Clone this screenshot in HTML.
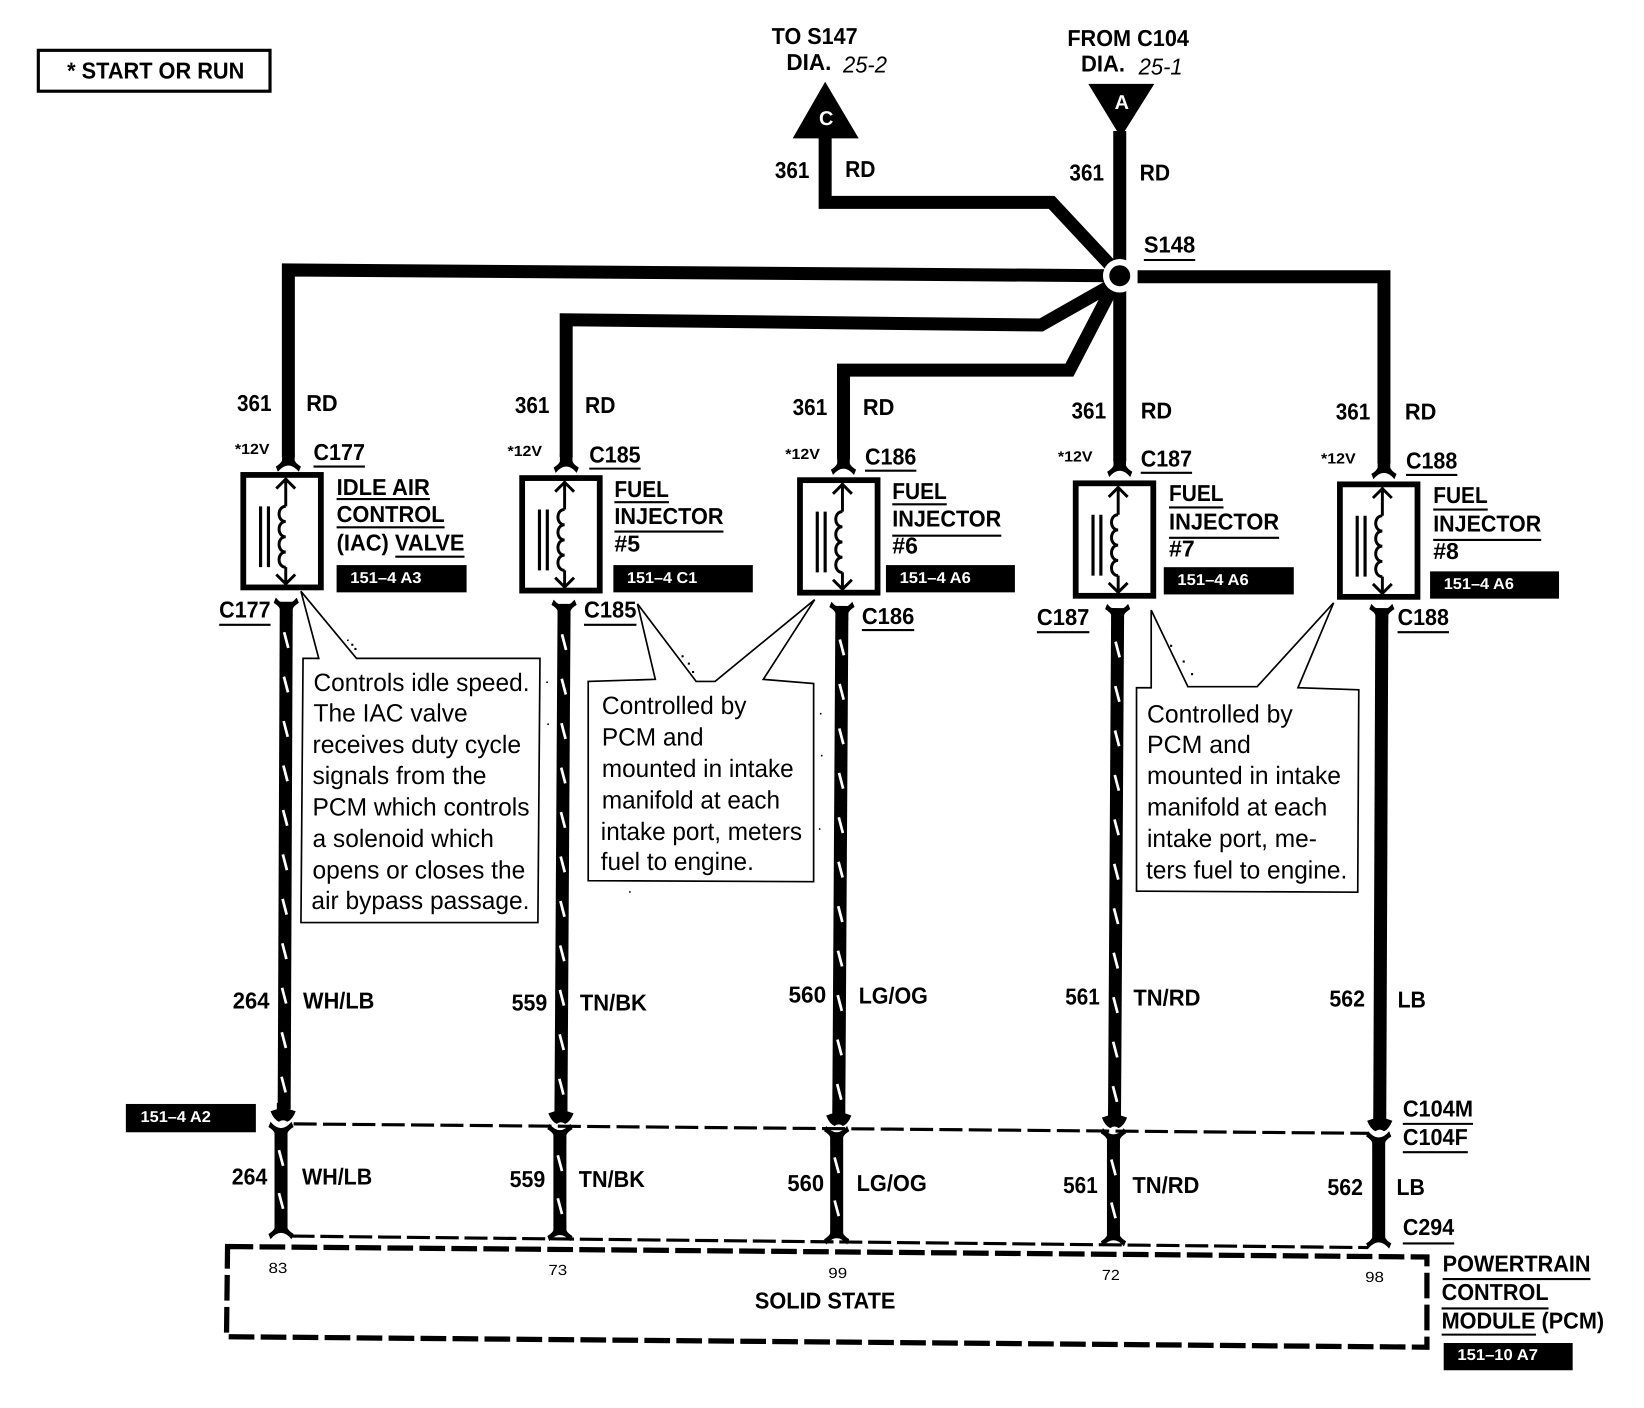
<!DOCTYPE html>
<html><head><meta charset="utf-8"><style>
html,body{margin:0;padding:0;background:#fff}
svg{display:block}
text{font-family:"Liberation Sans",sans-serif;fill:#000;text-rendering:geometricPrecision}
.b{font-weight:bold;font-size:22px}
.r{font-size:24px}
.s{font-weight:bold;font-size:14px}
.n{font-size:14px}
.w{font-weight:bold;font-size:15px;fill:#fff}
.i{font-style:italic;font-size:22px}
.wire{fill:none;stroke:#000;stroke-width:12.4;stroke-linejoin:miter}
.u{stroke:#000;stroke-width:2}
.call{fill:#fff;stroke:#000;stroke-width:1.6}
</style></head><body>
<svg xmlns="http://www.w3.org/2000/svg" width="1644" height="1408" viewBox="0 0 1568 1343">
<defs>
<path id="ft" d="M-6,-12L6,-12L6,-5Q7,-2 12,1L10,6Q5,0 0,0Q-5,0 -10,6L-12,1Q-7,-2 -6,-5Z"/>
<path id="ar" d="M-6,-14L6,-14L6,-8L12,-6Q9,2 4,4Q0,1 -4,4Q-9,2 -12,-6L-6,-8Z"/>
<g id="dev">
<rect x="-36" y="2" width="74" height="107.3" fill="#fff" stroke="#000" stroke-width="5.5"/>
<path d="M4.5,5V32M4.5,90V106M-4.5,15L4.5,6L13.5,15M-4.5,97L4.5,106L13.5,97" fill="none" stroke="#000" stroke-width="2.8"/>
<path d="M4.5,32C-4,32 -4,46.500 4.500,46.500C-4,46.500 -4,61 4.500,61C-4,61 -4,75.500 4.500,75.500C-4,75.500 -4,90 4.500,90" fill="none" stroke="#000" stroke-width="2.8"/>
<path d="M-19.500,32V90M-12,32V90" stroke="#000" stroke-width="3"/>
</g>
<g id="L" stroke="#fff" stroke-width="2.6">
<path d="M-2,0l4,15M-2,42.400l4,15M-2,84.800l4,15M-2,127.200l4,15M-2,169.600l4,15M-2,212l4,15M-2,254.400l4,15M-2,296.800l4,15M-2,339.200l4,15M-2,381.600l4,15M-2,424l4,15"/>
</g>
<g id="M" stroke="#fff" stroke-width="2.6"><path d="M-2,0l4,15M-2,41l4,15"/></g>
</defs>

<rect x="36.5" y="48" width="221" height="39" fill="#fff" stroke="#000" stroke-width="3"/>
<text class="b" x="64" y="75" textLength="169" lengthAdjust="spacingAndGlyphs">* START OR RUN</text>

<text class="b" x="736" y="42" textLength="82" lengthAdjust="spacingAndGlyphs">TO S147</text>
<text class="b" x="750" y="67" textLength="43" lengthAdjust="spacingAndGlyphs">DIA.</text>
<text class="i" x="804" y="69" textLength="42" lengthAdjust="spacingAndGlyphs">25-2</text>
<text class="b" x="1018" y="44" textLength="116" lengthAdjust="spacingAndGlyphs">FROM C104</text>
<text class="b" x="1031" y="68" textLength="42" lengthAdjust="spacingAndGlyphs">DIA.</text>
<text class="i" x="1086" y="71" textLength="42" lengthAdjust="spacingAndGlyphs">25-1</text>

<!-- top wires -->
<path class="wire" d="M787,130V193H1003L1060,254"/>
<path class="wire" d="M1068,125V440"/>
<path class="wire" d="M1060,263L275,257.500V436"/>
<path class="wire" d="M1085,264H1320V442"/>
<path class="wire" d="M1060,272L993,310L540,305V436"/>
<path class="wire" d="M1060,276L1020,353H804.500V438"/>
<polygon points="787,78 756,132 819,132" fill="#000"/>
<polygon points="1038,80 1101,80 1069,131" fill="#000"/>
<text class="b" x="788" y="119" text-anchor="middle" style="fill:#fff;font-size:19px">C</text>
<text class="b" x="1070" y="104" text-anchor="middle" style="fill:#fff;font-size:19px">A</text>
<circle cx="1068" cy="263" r="16" fill="#fff"/>
<circle cx="1068" cy="263" r="10" fill="#000"/>
<text class="b" x="1091" y="241" textLength="49" lengthAdjust="spacingAndGlyphs">S148</text>
<path class="u" d="M1091,248H1140"/>

<text class="b" x="739" y="170" textLength="33" lengthAdjust="spacingAndGlyphs">361</text><text class="b" x="806" y="169" textLength="29" lengthAdjust="spacingAndGlyphs">RD</text>
<text class="b" x="1020" y="172" textLength="33" lengthAdjust="spacingAndGlyphs">361</text><text class="b" x="1087" y="172" textLength="29" lengthAdjust="spacingAndGlyphs">RD</text>
<text class="b" x="226" y="392" textLength="33" lengthAdjust="spacingAndGlyphs">361</text><text class="b" x="292" y="392" textLength="30" lengthAdjust="spacingAndGlyphs">RD</text>
<text class="b" x="491" y="394" textLength="33" lengthAdjust="spacingAndGlyphs">361</text><text class="b" x="558" y="394" textLength="29" lengthAdjust="spacingAndGlyphs">RD</text>
<text class="b" x="756" y="396" textLength="33" lengthAdjust="spacingAndGlyphs">361</text><text class="b" x="823" y="396" textLength="30" lengthAdjust="spacingAndGlyphs">RD</text>
<text class="b" x="1022" y="399" textLength="33" lengthAdjust="spacingAndGlyphs">361</text><text class="b" x="1088" y="399" textLength="30" lengthAdjust="spacingAndGlyphs">RD</text>
<text class="b" x="1274" y="400" textLength="33" lengthAdjust="spacingAndGlyphs">361</text><text class="b" x="1340" y="400" textLength="30" lengthAdjust="spacingAndGlyphs">RD</text>

<text class="s" x="224" y="433" textLength="33" lengthAdjust="spacingAndGlyphs">*12V</text>
<text class="s" x="484" y="435" textLength="33" lengthAdjust="spacingAndGlyphs">*12V</text>
<text class="s" x="749" y="438" textLength="33" lengthAdjust="spacingAndGlyphs">*12V</text>
<text class="s" x="1009" y="440" textLength="33" lengthAdjust="spacingAndGlyphs">*12V</text>
<text class="s" x="1260" y="442" textLength="33" lengthAdjust="spacingAndGlyphs">*12V</text>

<text class="b" x="299" y="439" textLength="49" lengthAdjust="spacingAndGlyphs">C177</text><path class="u" d="M299,445H348"/>
<text class="b" x="562" y="441" textLength="49" lengthAdjust="spacingAndGlyphs">C185</text><path class="u" d="M562,447H611"/>
<text class="b" x="825" y="443" textLength="49" lengthAdjust="spacingAndGlyphs">C186</text><path class="u" d="M825,449H874"/>
<text class="b" x="1088" y="445" textLength="49" lengthAdjust="spacingAndGlyphs">C187</text><path class="u" d="M1088,451H1137"/>
<text class="b" x="1341" y="447" textLength="49" lengthAdjust="spacingAndGlyphs">C188</text><path class="u" d="M1341,453H1390"/>

<!-- top forks -->
<use href="#ft" x="275" y="444"/><use href="#ft" x="540" y="445"/><use href="#ft" x="804.500" y="447"/><use href="#ft" x="1068" y="449"/><use href="#ft" x="1320" y="451"/>

<!-- devices -->
<use href="#dev" x="268" y="451"/><use href="#dev" x="534" y="454"/><use href="#dev" x="799" y="456"/><use href="#dev" x="1062" y="459"/><use href="#dev" x="1314" y="460"/>

<!-- device labels -->
<text class="b" x="321" y="472" textLength="89" lengthAdjust="spacingAndGlyphs">IDLE AIR</text><path class="u" d="M321,476H410"/>
<text class="b" x="321" y="498" textLength="103" lengthAdjust="spacingAndGlyphs">CONTROL</text><path class="u" d="M321,503H424"/>
<text class="b" x="321" y="525" textLength="122" lengthAdjust="spacingAndGlyphs">(IAC) VALVE</text><path class="u" d="M377,531H443"/>
<rect x="321" y="539" width="124" height="26"/><text class="w" x="334" y="556" textLength="68" lengthAdjust="spacingAndGlyphs">151–4 A3</text>

<text class="b" x="586" y="474" textLength="52" lengthAdjust="spacingAndGlyphs">FUEL</text><path class="u" d="M586,479H638"/>
<text class="b" x="586" y="500" textLength="104" lengthAdjust="spacingAndGlyphs">INJECTOR</text><path class="u" d="M586,507H690"/>
<text class="b" x="586" y="526">#5</text>
<rect x="585" y="539" width="133" height="26"/><text class="w" x="598" y="556" textLength="67" lengthAdjust="spacingAndGlyphs">151–4 C1</text>

<text class="b" x="851" y="476" textLength="52" lengthAdjust="spacingAndGlyphs">FUEL</text><path class="u" d="M851,481H903"/>
<text class="b" x="851" y="502" textLength="104" lengthAdjust="spacingAndGlyphs">INJECTOR</text><path class="u" d="M851,511H955"/>
<text class="b" x="851" y="528">#6</text>
<rect x="845" y="539" width="123" height="26"/><text class="w" x="858" y="556" textLength="68" lengthAdjust="spacingAndGlyphs">151–4 A6</text>

<text class="b" x="1115" y="478" textLength="52" lengthAdjust="spacingAndGlyphs">FUEL</text><path class="u" d="M1115,484H1167"/>
<text class="b" x="1115" y="505" textLength="105" lengthAdjust="spacingAndGlyphs">INJECTOR</text><path class="u" d="M1115,513H1220"/>
<text class="b" x="1115" y="531">#7</text>
<rect x="1110" y="541" width="124" height="26"/><text class="w" x="1123" y="558" textLength="68" lengthAdjust="spacingAndGlyphs">151–4 A6</text>

<text class="b" x="1367" y="480" textLength="52" lengthAdjust="spacingAndGlyphs">FUEL</text><path class="u" d="M1367,486H1419"/>
<text class="b" x="1367" y="507" textLength="103" lengthAdjust="spacingAndGlyphs">INJECTOR</text><path class="u" d="M1367,515H1470"/>
<text class="b" x="1367" y="533">#8</text>
<rect x="1364" y="545" width="123" height="26"/><text class="w" x="1377" y="562" textLength="67" lengthAdjust="spacingAndGlyphs">151–4 A6</text>

<text class="b" x="209" y="589" textLength="49" lengthAdjust="spacingAndGlyphs">C177</text><path class="u" d="M209,596H258"/>
<text class="b" x="557" y="589" textLength="50" lengthAdjust="spacingAndGlyphs">C185</text><path class="u" d="M557,596H607"/>
<text class="b" x="822" y="595" textLength="50" lengthAdjust="spacingAndGlyphs">C186</text><path class="u" d="M822,601H872"/>
<text class="b" x="989" y="596" textLength="50" lengthAdjust="spacingAndGlyphs">C187</text><path class="u" d="M989,603H1039"/>
<text class="b" x="1333" y="596" textLength="49" lengthAdjust="spacingAndGlyphs">C188</text><path class="u" d="M1333,603H1382"/>

<!-- lower wires -->
<path class="wire" d="M273,574L271,1058"/><path class="wire" d="M268,1078V1174"/>
<path class="wire" d="M538,576L535,1060"/><path class="wire" d="M534,1080V1176"/>
<path class="wire" d="M803,578L800,1062"/><path class="wire" d="M798,1082V1179"/>
<path class="wire" d="M1066,580L1063,1064"/><path class="wire" d="M1062,1084V1181"/>
<path class="wire" d="M1318,580L1316,1067"/><path class="wire" d="M1315,1087V1183"/>

<use href="#L" transform="translate(273,603) rotate(.34)"/>
<use href="#L" transform="translate(538,605) rotate(.34)"/>
<use href="#L" transform="translate(803,610) rotate(.34)"/>
<use href="#L" transform="translate(1066,612) rotate(.34)"/>
<use href="#M" transform="translate(268,1097)"/>
<use href="#M" transform="translate(534,1102)"/>
<use href="#M" transform="translate(798,1104)"/>
<use href="#M" transform="translate(1062,1106)"/>

<!-- lower forks -->
<g>
<use href="#ft" transform="translate(273,576) scale(1,-1)"/><use href="#ft" transform="translate(538,578) scale(1,-1)"/><use href="#ft" transform="translate(803,580) scale(1,-1)"/><use href="#ft" transform="translate(1066,582) scale(1,-1)"/><use href="#ft" transform="translate(1318,582) scale(1,-1)"/>
<use href="#ar" x="270" y="1066"/><use href="#ar" x="535" y="1068"/><use href="#ar" x="800" y="1070"/><use href="#ar" x="1063" y="1072"/><use href="#ar" x="1316" y="1075"/>
<use href="#ft" transform="translate(268,1076) scale(1,-1)"/><use href="#ft" transform="translate(534,1078) scale(1,-1)"/><use href="#ft" transform="translate(798,1080) scale(1,-1)"/><use href="#ft" transform="translate(1062,1082) scale(1,-1)"/><use href="#ft" transform="translate(1315,1085) scale(1,-1)"/>
<use href="#ft" x="268" y="1176"/><use href="#ft" x="534" y="1178"/><use href="#ft" x="798" y="1181"/><use href="#ft" x="1062" y="1183"/><use href="#ft" x="1315" y="1185"/>
</g>

<!-- dashed lines -->
<path d="M280,1072L1305,1081" fill="none" stroke="#000" stroke-width="3" stroke-dasharray="22 6"/>
<path d="M278,1179L1305,1190" fill="none" stroke="#000" stroke-width="3" stroke-dasharray="22 5.500"/>
<path d="M217,1189L1361,1199V1285L216,1275Z" fill="none" stroke="#000" stroke-width="5" stroke-dasharray="24.500 6"/>

<!-- callouts -->
<path class="call" d="M287,564L340,628L515,628L513,880L287,880L289,628L304,628Z"/>
<text class="r" x="299" y="659" textLength="206" lengthAdjust="spacingAndGlyphs">Controls idle speed.</text>
<text class="r" x="299" y="688" textLength="147" lengthAdjust="spacingAndGlyphs">The IAC valve</text>
<text class="r" x="298" y="718" textLength="199" lengthAdjust="spacingAndGlyphs">receives duty cycle</text>
<text class="r" x="298" y="748" textLength="166" lengthAdjust="spacingAndGlyphs">signals from the</text>
<text class="r" x="298" y="778" textLength="207" lengthAdjust="spacingAndGlyphs">PCM which controls</text>
<text class="r" x="298" y="808" textLength="173" lengthAdjust="spacingAndGlyphs">a solenoid which</text>
<text class="r" x="298" y="838" textLength="203" lengthAdjust="spacingAndGlyphs">opens or closes the</text>
<text class="r" x="297" y="867" textLength="208" lengthAdjust="spacingAndGlyphs">air bypass passage.</text>

<path class="call" d="M608,576L664,650L682,650L777,572L728,648L776,652L776,841L561,840L561,650L625,648Z"/>
<text class="r" x="574" y="681" textLength="138" lengthAdjust="spacingAndGlyphs">Controlled by</text>
<text class="r" x="574" y="711" textLength="97" lengthAdjust="spacingAndGlyphs">PCM and</text>
<text class="r" x="574" y="741" textLength="183" lengthAdjust="spacingAndGlyphs">mounted in intake</text>
<text class="r" x="574" y="771" textLength="170" lengthAdjust="spacingAndGlyphs">manifold at each</text>
<text class="r" x="573" y="801" textLength="192" lengthAdjust="spacingAndGlyphs">intake port, meters</text>
<text class="r" x="573" y="830" textLength="146" lengthAdjust="spacingAndGlyphs">fuel to engine.</text>

<path class="call" d="M1098,582L1133,655L1199,655L1272,575L1238,656L1296,658L1295,851L1084,850L1084,656L1098,656Z"/>
<text class="r" x="1094" y="689" textLength="139" lengthAdjust="spacingAndGlyphs">Controlled by</text>
<text class="r" x="1094" y="718" textLength="99" lengthAdjust="spacingAndGlyphs">PCM and</text>
<text class="r" x="1094" y="748" textLength="185" lengthAdjust="spacingAndGlyphs">mounted in intake</text>
<text class="r" x="1094" y="778" textLength="172" lengthAdjust="spacingAndGlyphs">manifold at each</text>
<text class="r" x="1094" y="808" textLength="162" lengthAdjust="spacingAndGlyphs">intake port, me-</text>
<text class="r" x="1093" y="838" textLength="192" lengthAdjust="spacingAndGlyphs">ters fuel to engine.</text>

<!-- speckles -->
<g fill="#000">
<rect x="335" y="614" width="2" height="2"/><rect x="338" y="618" width="2" height="2"/><rect x="331" y="610" width="1.500" height="1.500"/>
<rect x="650" y="625" width="2" height="2"/><rect x="656" y="632" width="2" height="2"/><rect x="660" y="640" width="2" height="2"/>
<rect x="1116" y="615" width="2" height="2"/><rect x="1128" y="630" width="2" height="2"/><rect x="1136" y="642" width="2" height="2"/>
<rect x="782" y="680" width="1.500" height="1.500"/><rect x="783" y="720" width="1.500" height="1.500"/><rect x="781" y="790" width="1.500" height="1.500"/>
<rect x="521" y="650" width="1.500" height="1.500"/><rect x="522" y="690" width="1.500" height="1.500"/><rect x="600" y="850" width="1.500" height="1.500"/>
</g>

<!-- wire labels -->
<text class="b" x="222" y="962" textLength="35" lengthAdjust="spacingAndGlyphs">264</text><text class="b" x="289" y="962" textLength="68" lengthAdjust="spacingAndGlyphs">WH/LB</text>
<text class="b" x="488" y="964" textLength="34" lengthAdjust="spacingAndGlyphs">559</text><text class="b" x="553" y="964" textLength="64" lengthAdjust="spacingAndGlyphs">TN/BK</text>
<text class="b" x="752" y="956" textLength="36" lengthAdjust="spacingAndGlyphs">560</text><text class="b" x="819" y="957" textLength="66" lengthAdjust="spacingAndGlyphs">LG/OG</text>
<text class="b" x="1016" y="958" textLength="33" lengthAdjust="spacingAndGlyphs">561</text><text class="b" x="1081" y="959" textLength="64" lengthAdjust="spacingAndGlyphs">TN/RD</text>
<text class="b" x="1268" y="960" textLength="34" lengthAdjust="spacingAndGlyphs">562</text><text class="b" x="1333" y="961" textLength="27" lengthAdjust="spacingAndGlyphs">LB</text>
<text class="b" x="221" y="1130" textLength="34" lengthAdjust="spacingAndGlyphs">264</text><text class="b" x="288" y="1130" textLength="67" lengthAdjust="spacingAndGlyphs">WH/LB</text>
<text class="b" x="486" y="1132" textLength="34" lengthAdjust="spacingAndGlyphs">559</text><text class="b" x="552" y="1132" textLength="63" lengthAdjust="spacingAndGlyphs">TN/BK</text>
<text class="b" x="751" y="1136" textLength="35" lengthAdjust="spacingAndGlyphs">560</text><text class="b" x="817" y="1136" textLength="67" lengthAdjust="spacingAndGlyphs">LG/OG</text>
<text class="b" x="1014" y="1138" textLength="33" lengthAdjust="spacingAndGlyphs">561</text><text class="b" x="1080" y="1138" textLength="64" lengthAdjust="spacingAndGlyphs">TN/RD</text>
<text class="b" x="1266" y="1140" textLength="34" lengthAdjust="spacingAndGlyphs">562</text><text class="b" x="1332" y="1140" textLength="27" lengthAdjust="spacingAndGlyphs">LB</text>

<rect x="120" y="1053" width="124" height="27"/><text class="w" x="134" y="1070" textLength="67" lengthAdjust="spacingAndGlyphs">151–4 A2</text>

<text class="b" x="1338" y="1065" textLength="67" lengthAdjust="spacingAndGlyphs">C104M</text><path class="u" d="M1338,1072H1405"/>
<text class="b" x="1338" y="1092" textLength="62" lengthAdjust="spacingAndGlyphs">C104F</text><path class="u" d="M1338,1099H1400"/>
<text class="b" x="1338" y="1178" textLength="49" lengthAdjust="spacingAndGlyphs">C294</text><path class="u" d="M1338,1186H1387"/>

<text class="n" x="256" y="1214" textLength="18" lengthAdjust="spacingAndGlyphs">83</text>
<text class="n" x="523" y="1216" textLength="18" lengthAdjust="spacingAndGlyphs">73</text>
<text class="n" x="790" y="1219" textLength="18" lengthAdjust="spacingAndGlyphs">99</text>
<text class="n" x="1051" y="1221" textLength="17" lengthAdjust="spacingAndGlyphs">72</text>
<text class="n" x="1302" y="1223" textLength="18" lengthAdjust="spacingAndGlyphs">98</text>

<text class="b" x="720" y="1248" textLength="134" lengthAdjust="spacingAndGlyphs">SOLID STATE</text>

<text class="b" x="1376" y="1213" textLength="141" lengthAdjust="spacingAndGlyphs">POWERTRAIN</text><path class="u" d="M1376,1220H1517"/>
<text class="b" x="1375" y="1240" textLength="102" lengthAdjust="spacingAndGlyphs">CONTROL</text><path class="u" d="M1375,1248H1477"/>
<text class="b" x="1375" y="1267" textLength="155" lengthAdjust="spacingAndGlyphs">MODULE (PCM)</text><path class="u" d="M1375,1273H1465"/>
<rect x="1377" y="1281" width="123" height="26"/><text class="w" x="1390" y="1297" textLength="77" lengthAdjust="spacingAndGlyphs">151–10 A7</text>
</svg>
</body></html>
